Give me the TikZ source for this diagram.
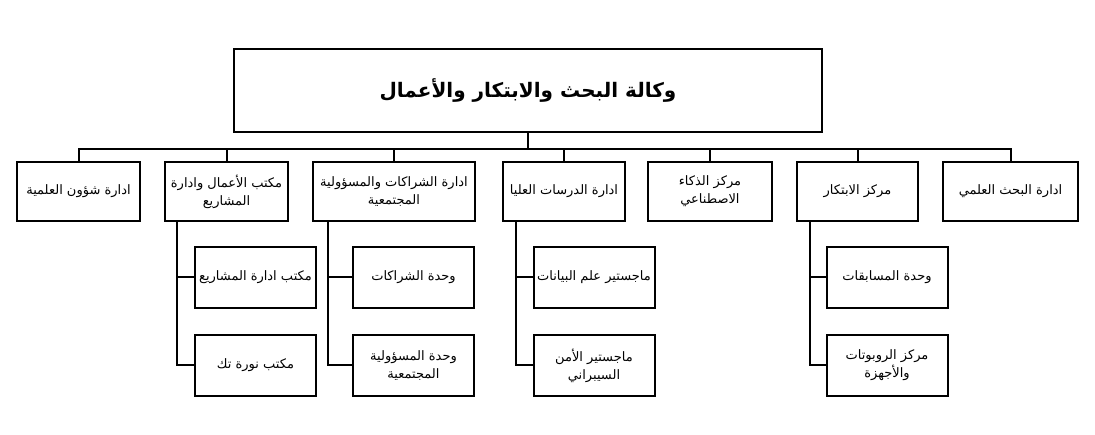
\documentclass[tikz,border=0pt]{standalone}
\usepackage{fontspec}
\setmainfont{Liberation Sans}
\newfontfamily\arabicfont[Script=Arabic]{DejaVu Sans}
\TeXXeTstate=1
\newcommand{\artext}[1]{{\arabicfont\beginR #1\endR}}
\usepackage{tikz}
\usetikzlibrary{positioning}

\begin{document}
\begin{tikzpicture}[
    x=1pt, y=-1pt,
    head/.style={draw=black, line width=2.5pt, minimum width=588pt, minimum height=83pt, font=\fontsize{20}{24}\selectfont\bfseries},
    dept/.style={draw=black, line width=2pt, align=center, minimum height=59pt, inner sep=2pt, font=\fontsize{13}{18}\selectfont},
    unit/.style={dept, minimum width=121pt, minimum height=61pt},
    link/.style={line width=2pt, draw=black}
  ]
    \useasboundingbox (0,0) rectangle (1095,435);
    \node[head] (agency) at (528,90.5) {\artext{وكالة البحث والابتكار والأعمال}};
    % first level
    \node[dept, minimum width=123pt] (affairs) at (78.5,191.5) {\artext{ادارة شؤون العلمية}};
    \node[dept, minimum width=123pt] (biz) at (226.5,191.5) {\artext{مكتب الأعمال وادارة}\\\artext{المشاريع}};
    \node[dept, minimum width=162pt] (partner) at (394,191.5) {\artext{ادارة الشراكات والمسؤولية}\\\artext{المجتمعية}};
    \node[dept, minimum width=122pt] (grad) at (564,191.5) {\artext{ادارة الدرسات العليا}};
    \node[dept, minimum width=124pt] (ai) at (710,191.5) {\artext{مركز الذكاء}\\\artext{الاصطناعي}};
    \node[dept, minimum width=121pt] (innov) at (857.5,191.5) {\artext{مركز الابتكار}};
    \node[dept, minimum width=135pt] (research) at (1010.5,191.5) {\artext{ادارة البحث العلمي}};
    \draw[link] (agency.south) -- ++(0,16) -| (affairs.north);
    \draw[link] (agency.south) -- ++(0,16) -| (biz.north);
    \draw[link] (agency.south) -- ++(0,16) -| (partner.north);
    \draw[link] (agency.south) -- ++(0,16) -| (grad.north);
    \draw[link] (agency.south) -- ++(0,16) -| (ai.north);
    \draw[link] (agency.south) -- ++(0,16) -| (innov.north);
    \draw[link] (agency.south) -- ++(0,16) -| (research.north);
    % second level
    \node[unit] (pmo) at (255.5,277.5) {\artext{مكتب ادارة المشاريع}};
    \node[unit, below=25pt of pmo] (noura) {\artext{مكتب نورة تك}};
    \node[unit] (punit) at (413.5,277.5) {\artext{وحدة الشراكات}};
    \node[unit, below=25pt of punit] (csr) {\artext{وحدة المسؤولية}\\\artext{المجتمعية}};
    \node[unit] (datasci) at (594,277.5) {\artext{ماجستير علم البيانات}};
    \node[unit, below=25pt of datasci] (cyber) {\artext{ماجستير الأمن}\\\artext{السيبراني}};
    \node[unit] (contest) at (887,277.5) {\artext{وحدة المسابقات}};
    \node[unit, below=25pt of contest] (robot) {\artext{مركز الروبوتات}\\\artext{والأجهزة}};
    \coordinate (bizline) at (177,0);
    \coordinate (partline) at (328,0);
    \coordinate (gradline) at (516,0);
    \coordinate (innovline) at (810,0);
    \draw[link] (biz.south -| bizline) |- (pmo.west);
    \draw[link] (biz.south -| bizline) |- (noura.west);
    \draw[link] (partner.south -| partline) |- (punit.west);
    \draw[link] (partner.south -| partline) |- (csr.west);
    \draw[link] (grad.south -| gradline) |- (datasci.west);
    \draw[link] (grad.south -| gradline) |- (cyber.west);
    \draw[link] (innov.south -| innovline) |- (contest.west);
    \draw[link] (innov.south -| innovline) |- (robot.west);
  \end{tikzpicture}
\end{document}
